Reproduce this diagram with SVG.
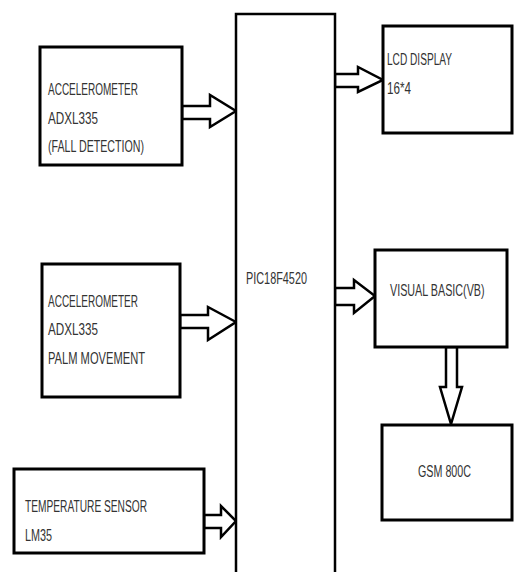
<svg xmlns="http://www.w3.org/2000/svg" width="515" height="572" viewBox="0 0 515 572">
<style>
.box{fill:#fff;stroke:#000;stroke-width:3}
.arr{fill:#fff;stroke:#000;stroke-width:2.5;stroke-linejoin:miter}
text{font-family:"Liberation Sans",Arial,sans-serif;font-size:16px;fill:#333}
</style>
<rect width="515" height="572" fill="#fff"/>
<g id="connectors">
<polygon class="arr" points="182,106 210,106 210,95 236,111 210,127 210,119 182,119"/>
<polygon class="arr" points="180,315 208,315 208,307 236,322 208,340 208,328 180,328"/>
<polygon class="arr" points="204,515 221,515 221,506 236,521 221,537 221,528 204,528"/>
<polygon class="arr" points="335,74 358,74 358,67 383,80 358,92 358,87 335,87"/>
<polygon class="arr" points="335,288 354,288 354,280 375,296 354,313 354,305 335,305"/>
<polygon class="arr" points="446,347 457,347 457,387 462,387 451,424 440,387 446,387"/>
</g>
<g id="pic">
<rect class="box" x="236" y="14" width="99" height="560" style="stroke-width:2.5"/>
<text x="246" y="284" textLength="61" lengthAdjust="spacingAndGlyphs">PIC18F4520</text>
</g>
<g id="accel-fall">
<rect class="box" x="40" y="47" width="142" height="118"/>
<text x="48" y="95" textLength="90" lengthAdjust="spacingAndGlyphs">ACCELEROMETER</text>
<text x="48" y="124" textLength="50" lengthAdjust="spacingAndGlyphs">ADXL335</text>
<text x="48" y="152" textLength="96" lengthAdjust="spacingAndGlyphs">(FALL DETECTION)</text>
</g>
<g id="accel-palm">
<rect class="box" x="42" y="264" width="138" height="133"/>
<text x="48" y="307" textLength="90" lengthAdjust="spacingAndGlyphs">ACCELEROMETER</text>
<text x="48" y="335" textLength="50" lengthAdjust="spacingAndGlyphs">ADXL335</text>
<text x="48" y="364" textLength="97" lengthAdjust="spacingAndGlyphs">PALM MOVEMENT</text>
</g>
<g id="temp">
<rect class="box" x="14" y="469" width="190" height="84"/>
<text x="25" y="512" textLength="122" lengthAdjust="spacingAndGlyphs">TEMPERATURE SENSOR</text>
<text x="25" y="541" textLength="27" lengthAdjust="spacingAndGlyphs">LM35</text>
</g>
<g id="lcd">
<rect class="box" x="383" y="26" width="129" height="107"/>
<text x="387" y="65" textLength="65" lengthAdjust="spacingAndGlyphs">LCD DISPLAY</text>
<text x="387" y="94" textLength="24" lengthAdjust="spacingAndGlyphs">16*4</text>
</g>
<g id="vb">
<rect class="box" x="375" y="250" width="132" height="97"/>
<text transform="translate(390,296) scale(0.672,1)" x="0" y="0">VISUAL BASIC(VB)</text>
</g>
<g id="gsm">
<rect class="box" x="382" y="425" width="130" height="95"/>
<text x="418" y="477" textLength="53" lengthAdjust="spacingAndGlyphs">GSM 800C</text>
</g>
</svg>
